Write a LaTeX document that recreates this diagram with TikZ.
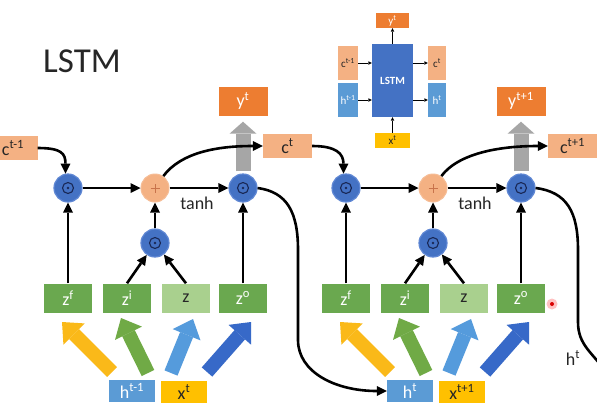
\documentclass[tikz,border=0pt]{standalone}
\usepackage{fontspec}
\setmainfont{Carlito}
\usetikzlibrary{arrows.meta,calc}
\definecolor{cOrange}{RGB}{237,125,49}
\definecolor{cSalmon}{RGB}{244,177,131}
\definecolor{cHblue}{RGB}{91,155,213}
\definecolor{cGold}{RGB}{255,192,0}
\definecolor{cGreen}{RGB}{106,168,79}
\definecolor{cLgreen}{RGB}{169,208,142}
\definecolor{cBlue}{RGB}{68,114,196}
\definecolor{cRing}{RGB}{95,135,212}
\definecolor{cNavy}{RGB}{25,40,85}
\definecolor{cText}{RGB}{38,38,38}
\definecolor{cGray}{RGB}{166,166,166}
\definecolor{cArY}{RGB}{250,185,25}
\definecolor{cArG}{RGB}{112,170,70}
\definecolor{cArL}{RGB}{85,155,220}
\definecolor{cArB}{RGB}{55,105,200}
\definecolor{cPlus}{RGB}{200,115,75}
\tikzset{
  lbl/.style={font=\fontsize{18}{19}\selectfont},
  slbl/.style={font=\fontsize{11}{12}\selectfont},
  mainbox/.style={rectangle,inner sep=0pt,minimum width=48pt,minimum height=29pt,lbl},
  gatebox/.style={mainbox,fill=cGreen,text=white},
  hbox/.style={rectangle,inner sep=0pt,minimum width=46pt,minimum height=22pt,fill=cHblue,text=white,lbl},
  xbox/.style={rectangle,inner sep=0pt,minimum width=46pt,minimum height=22pt,fill=cGold,text=cText,lbl},
  ybox/.style={rectangle,inner sep=0pt,minimum width=49pt,minimum height=29pt,fill=cOrange,text=white,lbl},
  cellbox/.style={rectangle,inner sep=0pt,minimum width=49pt,minimum height=24pt,fill=cSalmon,text=cText,lbl},
  mult/.style={circle,minimum size=28pt,inner sep=0pt,fill=cBlue,draw=cRing,line width=1.2pt,
    path picture={\draw[cNavy,line width=1.1pt] (path picture bounding box.center) circle[radius=5.5pt];
      \fill[cNavy] (path picture bounding box.center) circle[radius=1.4pt];}},
  plus/.style={circle,minimum size=28pt,inner sep=0pt,fill=cSalmon,draw=cSalmon!85!white,line width=1pt,
    path picture={\draw[cPlus,line width=0.8pt]
      ([xshift=-4.5pt]path picture bounding box.center) -- ([xshift=4.5pt]path picture bounding box.center)
      ([yshift=-4.5pt]path picture bounding box.center) -- ([yshift=4.5pt]path picture bounding box.center);}},
  conn/.style={draw=black,line width=2.6pt,-{Triangle[length=10pt,width=10pt,line width=0pt]}},
  fat/.style={line width=14pt,-{Triangle[length=17pt,width=30pt,line width=0pt]}},
  grayfat/.style={draw=cGray,line width=15pt,-{Triangle[length=12pt,width=27pt,line width=0pt]}},
  ibox/.style={rectangle,inner sep=0pt,minimum width=19pt,minimum height=34pt,slbl},
  iconn/.style={draw=black,line width=0.9pt,-{Triangle[length=3.5pt,width=3.5pt,line width=0pt]}}
}
\newcommand\lstmblk[7]{%
\begin{scope}[xshift=#1pt]
  \node[mult] (ma#2) at (68,188) {};
  \node[plus] (pl#2) at (155,188) {};
  \node[mult] (mo#2) at (243,188) {};
  \node[mult] (mi#2) at (155,243) {};
  \node[gatebox] (zf#2) at (68,298) {z\textsuperscript{f}};
  \node[gatebox] (zi#2) at (127,298) {z\textsuperscript{i}};
  \node[gatebox,fill=cLgreen,text=cText] (zz#2) at (186,298) {z};
  \node[gatebox] (zo#2) at (243,298) {z\textsuperscript{o}};
  \node[hbox] (h#2) at (132,391) {#3};
  \node[xbox] (x#2) at (184,392) {#4};
  \node[ybox] (y#2) at (243,101) {#5};
  \node[cellbox] (c#2) at (#6,146) {#7};
  \node[lbl,text=cText] (th#2) at (197,203) {tanh};
  \coordinate (ya#2) at (112,372); \coordinate (yb#2) at (62,322);
  \coordinate (ga#2) at (148,373); \coordinate (gb#2) at (121,318);
  \coordinate (la#2) at (171,373); \coordinate (lb#2) at (193,319);
  \coordinate (ba#2) at (207,372); \coordinate (bb#2) at (251,322);
  \draw[fat,cArY] (ya#2) -- (yb#2);
  \draw[fat,cArG] (ga#2) -- (gb#2);
  \draw[fat,cArL] (la#2) -- (lb#2);
  \draw[fat,cArB] (ba#2) -- (bb#2);
  \draw[grayfat] ([yshift=2pt]mo#2.north) -- ([yshift=-6pt]y#2.south);
  \draw[conn] (ma#2) -- (pl#2);
  \draw[conn] (pl#2) -- (mo#2);
  \draw[conn] (zf#2) -- (ma#2);
  \draw[conn] (zi#2.north) -- (mi#2);
  \draw[conn] (zz#2.north) -- (mi#2);
  \draw[conn] (mi#2) -- (pl#2);
  \draw[conn] (zo#2) -- (mo#2);
  \draw[conn] (pl#2.55) .. controls +(18,-24) and +(-45,0) .. (c#2.west);
\end{scope}}
\begin{document}
\begin{tikzpicture}[x=1pt,y=-1pt]
\useasboundingbox (0,0) rectangle (597,410);
\clip (0,0) rectangle (597,410);
\fill[white] (0,0) rectangle (597,410);
\node[font=\fontsize{35}{36}\selectfont,text=cText] (title) at (82,61) {LSTM};
% inset
\node[rectangle,fill=cBlue,minimum width=41pt,minimum height=73pt,inner sep=0pt,text=white,font=\fontsize{11}{12}\selectfont\bfseries] (ib) at (392.5,80.5) {LSTM};
\node[rectangle,inner sep=0pt,minimum width=33pt,minimum height=15pt,fill=cOrange,text=white,slbl] (iy) at (392.5,20.5) {y\textsuperscript{t}};
\node[rectangle,inner sep=0pt,minimum width=35pt,minimum height=15pt,fill=cGold,text=cText,slbl] (ix) at (392.5,140.5) {x\textsuperscript{t}};
\node[ibox,fill=cSalmon,text=cText,minimum width=20pt] (icp) at (348,63) {c\textsuperscript{t-1}};
\node[ibox,fill=cHblue,text=white,minimum width=20pt] (ihp) at (348,100) {h\textsuperscript{t-1}};
\node[ibox,fill=cSalmon,text=cText,minimum width=18pt] (ic) at (437,63) {c\textsuperscript{t}};
\node[ibox,fill=cHblue,text=white,minimum width=18pt] (ih) at (437,100) {h\textsuperscript{t}};
\draw[iconn] (icp) -- (icp -| ib.west);
\draw[iconn] (ihp) -- (ihp -| ib.west);
\draw[iconn] (ic -| ib.east) -- (ic);
\draw[iconn] (ih -| ib.east) -- (ih);
\draw[iconn] (ix) -- (ib);
\draw[iconn] (ib) -- (iy);
% blocks
\lstmblk{0}{A}{h\textsuperscript{t-1}}{x\textsuperscript{t}}{y\textsuperscript{t}}{287.5}{c\textsuperscript{t}}
\lstmblk{278}{B}{h\textsuperscript{t}}{x\textsuperscript{t+1}}{y\textsuperscript{t+1}}{294.5}{c\textsuperscript{t+1}}
\node[cellbox] (cp) at (13,148) {c\textsuperscript{t-1}};
\draw[conn] (cp.east) .. controls +(24,0) and +(0,-20) .. (maA.100);
\draw[conn] (cA.east) .. controls +(24,0) and +(0,-20) .. (maB.100);
\draw[conn] (moA.east) .. controls (287,192) and (298,212) .. (298,250) -- (298,340) .. controls (298,372) and (335,391) .. (hB.west);
\coordinate (hout) at (606,372);
\draw[line width=2.6pt] (moB.east) .. controls (567,192) and (578,212) .. (578,250) -- (578,322) .. controls (578,345) and (592,352) .. (hout);
\node[lbl,text=cText] (hlab) at (573,358) {h\textsuperscript{t}};
% pointer dot
\fill[red!40,opacity=0.6] (552,304) circle[radius=5.5pt];
\fill[red!85!black] (552,304) circle[radius=2pt];
\end{tikzpicture}
\end{document}
